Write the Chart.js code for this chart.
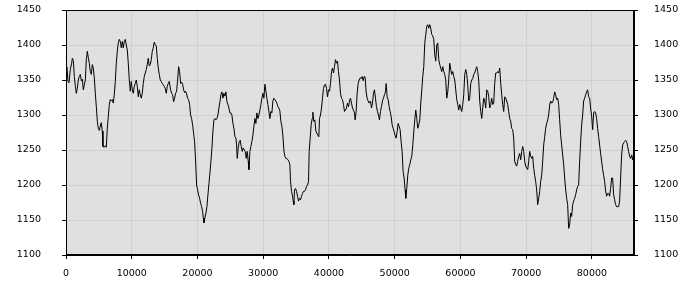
<!DOCTYPE html>
<html>
<head>
<meta charset="utf-8">
<script src="https://cdn.jsdelivr.net/npm/chart.js@4/dist/chart.umd.min.js"></script>
<style>
  body { margin: 0; background: #fff; }
  #wrap { width: 700px; height: 300px; }
</style>
</head>
<body>
<div id="wrap"><canvas id="myChart" width="700" height="300"></canvas></div>
<script>
// x positions (seconds) and readings, kept row for row
const times = [
    0, 152, 304, 456, 659, 861, 963, 1115,
    1267, 1419, 1571, 1723, 1875, 2027, 2179, 2331,
    2483, 2635, 2787, 2939, 3091, 3243, 3395, 3547,
    3699, 3851, 4003, 4155, 4307, 4459, 4611, 4763,
    4915, 5067, 5219, 5371, 5523, 5624, 5827, 5979,
    6131, 6283, 6435, 6587, 6739, 6891, 7043, 7195,
    7347, 7499, 7651, 7803, 7955, 8107, 8259, 8411,
    8563, 8715, 8867, 9019, 9171, 9323, 9475, 9627,
    9779, 9931, 10083, 10235, 10387, 10539, 10691, 10843,
    10995, 11147, 11299, 11451, 11603, 11755, 11907, 12059,
    12211, 12363, 12515, 12667, 12819, 12971, 13123, 13275,
    13427, 13579, 13731, 13883, 14035, 14187, 14339, 14491,
    14643, 14795, 14947, 15099, 15251, 15403, 15555, 15707,
    15914, 16066, 16218, 16370, 16522, 16674, 16826, 16978,
    17130, 17282, 17434, 17586, 17738, 17890, 18042, 18194,
    18346, 18498, 18650, 18802, 18954, 19106, 19258, 19410,
    19562, 19714, 19866, 20018, 20170, 20322, 20474, 20626,
    20778, 20880, 20981, 21133, 21285, 21437, 21589, 21741,
    21893, 22045, 22197, 22349, 22501, 22653, 22805, 22957,
    23109, 23261, 23413, 23565, 23717, 23869, 24021, 24173,
    24325, 24477, 24629, 24781, 24933, 25085, 25237, 25389,
    25541, 25693, 25845, 25946, 26048, 26200, 26352, 26504,
    26656, 26808, 26960, 27112, 27264, 27416, 27568, 27720,
    27822, 27974, 28126, 28278, 28430, 28582, 28734, 28886,
    29038, 29190, 29342, 29494, 29646, 29798, 29950, 30102,
    30254, 30406, 30558, 30710, 30862,
    31013, 31165, 31317, 31469, 31621, 31773, 31925, 32077,
    32229, 32381, 32533, 32685, 32837, 32989, 33141, 33293,
    33445, 33597, 33749, 33901, 34053, 34154, 34306, 34458,
    34559, 34661, 34762, 34914, 35066, 35218, 35370, 35522,
    35674, 35826, 35978, 36130, 36282, 36434, 36586, 36738,
    36890, 36991, 37143, 37295, 37447, 37549, 37701, 37853,
    38005, 38157, 38309, 38461, 38562, 38714, 38866, 39018,
    39170, 39322, 39474, 39626, 39778, 39930, 40082, 40234,
    40386, 40538, 40690, 40842, 40994, 41146, 41298, 41450,
    41602, 41754, 41906, 42058, 42210, 42362, 42514, 42666,
    42818, 42970, 43122, 43274, 43426, 43578, 43730, 43882,
    43983, 44135, 44287, 44439, 44591, 44743, 44895, 45047,
    45199, 45351, 45503, 45655, 45807, 45959, 46111,
    46314, 46466, 46618, 46770, 46922, 47074, 47226, 47378,
    47530, 47682, 47834, 47986, 48138, 48290, 48442, 48594,
    48696, 48848, 49000, 49152, 49304, 49456, 49608, 49760,
    49912, 50064, 50216, 50368, 50520, 50672, 50824, 50976,
    51128, 51280, 51432, 51584, 51685, 51837, 51989, 52141,
    52293, 52445, 52597, 52749, 52901, 53053, 53205, 53357,
    53509, 53661, 53813, 53965, 54117, 54269, 54421, 54573,
    54725, 54877, 55029, 55181, 55333, 55485, 55637, 55789,
    55941, 56093, 56245, 56397, 56549, 56701, 56853, 57005,
    57157, 57309, 57461, 57613, 57765, 57917, 58069, 58221,
    58373, 58525, 58677, 58829, 58981, 59133, 59285, 59437,
    59589, 59741, 59893, 60045, 60197, 60349, 60501, 60653,
    60805, 60957, 61109, 61261,
    61413, 61565, 61717, 61869, 62021, 62173, 62325, 62477,
    62629, 62781, 62933, 63085, 63237, 63389, 63541, 63693,
    63845, 63997, 64149, 64301, 64453, 64605, 64757, 64909,
    65061, 65213, 65365, 65517, 65669, 65821, 65973, 66125,
    66277, 66429, 66581, 66733, 66885, 67037, 67189, 67341,
    67493, 67645, 67797, 67949, 68101, 68253, 68405, 68557,
    68709, 68861, 69013, 69165, 69317, 69469, 69621, 69773,
    69925, 70077, 70229, 70381, 70533, 70685, 70837, 70989,
    71141, 71293, 71445, 71597, 71749, 71901, 72053, 72205,
    72357, 72509, 72661, 72813, 72965, 73117, 73269, 73421,
    73573, 73725, 73877, 74029, 74181, 74333, 74485, 74637,
    74789, 74941, 75093, 75245, 75397, 75549, 75701, 75853,
    76005, 76157, 76309, 76461,
    76613, 76765, 76917, 77069, 77221, 77373, 77525, 77677,
    77829, 77981, 78133, 78285, 78437, 78589, 78741, 78893,
    79045, 79197, 79349, 79501, 79653, 79805, 79957, 80109,
    80261, 80413, 80565, 80717, 80869, 81021, 81173, 81325,
    81477, 81629, 81781, 81933, 82085, 82237, 82389, 82541,
    82693, 82845, 82997, 83149, 83301, 83453, 83605, 83757,
    83909, 84061, 84213, 84365, 84517, 84669, 84821, 84973,
    85125, 85277, 85429, 85581, 85733, 85885, 86037, 86189,
    86341, 86400
];

const values = [
    1366, 1368, 1348, 1346, 1365, 1374, 1381, 1378,
    1355, 1341, 1331, 1338, 1350, 1355, 1358, 1349,
    1351, 1336, 1343, 1350, 1379, 1391, 1382, 1374,
    1362, 1358, 1372, 1367, 1353, 1331, 1312, 1291,
    1281, 1278, 1284, 1289, 1277, 1255, 1254, 1256,
    1254, 1281, 1298, 1315, 1322, 1320, 1322, 1317,
    1329, 1348, 1374, 1391, 1403, 1408, 1405, 1396,
    1405, 1396, 1405, 1408, 1400, 1393, 1374, 1350,
    1334, 1348, 1336, 1331, 1341, 1345, 1350, 1341,
    1326, 1336, 1329, 1324, 1331, 1345, 1355, 1360,
    1365, 1372, 1381, 1370, 1372, 1379, 1391, 1396,
    1404, 1400, 1399, 1381, 1367, 1358, 1350, 1348,
    1345, 1343, 1341, 1338, 1331, 1341, 1345, 1348,
    1336, 1331, 1329, 1319, 1324, 1331, 1334, 1350,
    1369, 1362, 1345, 1347, 1344, 1336, 1332, 1334,
    1330, 1324, 1322, 1315, 1300, 1295, 1286, 1274,
    1262, 1234, 1200, 1193, 1186, 1181, 1174, 1169,
    1162, 1153, 1146, 1153, 1160, 1169, 1186, 1202,
    1217, 1234, 1253, 1277, 1293, 1295, 1293, 1295,
    1300, 1310, 1319, 1329, 1333, 1324, 1331, 1327,
    1333, 1319, 1315, 1310, 1303, 1303, 1300, 1288,
    1281, 1269, 1267, 1257, 1238, 1253, 1262, 1264,
    1255, 1248, 1253, 1250, 1248, 1238, 1248, 1234,
    1222, 1248, 1255, 1262, 1271, 1284, 1295, 1288,
    1303, 1295, 1300, 1307, 1315, 1324, 1331, 1324,
    1344, 1334, 1324, 1315, 1305,
    1295, 1305, 1303, 1320, 1324, 1322, 1320, 1317,
    1312, 1310, 1306, 1291, 1284, 1271, 1250, 1241,
    1238, 1238, 1236, 1234, 1229, 1205, 1191, 1184,
    1177, 1172, 1193, 1195, 1191, 1184, 1177, 1181,
    1179, 1184, 1188, 1191, 1191, 1193, 1198, 1200,
    1205, 1248, 1267, 1286, 1295, 1304, 1291, 1293,
    1277, 1274, 1271, 1269, 1295, 1300, 1310, 1324,
    1338, 1343, 1344, 1338, 1326, 1336, 1334, 1345,
    1362, 1367, 1360, 1369, 1379, 1374, 1377, 1362,
    1350, 1331, 1324, 1322, 1315, 1305, 1307, 1310,
    1317, 1312, 1320, 1324, 1317, 1310, 1307, 1303,
    1293, 1305, 1331, 1345, 1350, 1353, 1352, 1355,
    1349, 1355, 1354, 1333, 1324, 1320, 1317,
    1320, 1310, 1317, 1331, 1336, 1324, 1312, 1305,
    1300, 1293, 1305, 1312, 1320, 1324, 1329, 1333,
    1345, 1326, 1322, 1312, 1305, 1298, 1286, 1281,
    1276, 1271, 1267, 1276, 1288, 1284, 1279, 1262,
    1248, 1219, 1210, 1193, 1181, 1195, 1214, 1224,
    1229, 1236, 1241, 1257, 1276, 1293, 1307, 1295,
    1281, 1286, 1293, 1317, 1336, 1355, 1369, 1403,
    1415, 1427, 1429, 1424, 1429, 1424, 1415, 1413,
    1408, 1386, 1377, 1400, 1403, 1379, 1372, 1367,
    1362, 1369, 1362, 1358, 1350, 1324, 1333, 1350,
    1374, 1365, 1358, 1362, 1355, 1350, 1336, 1322,
    1315, 1307, 1315, 1310, 1305, 1315, 1329, 1358,
    1365, 1358, 1343, 1320,
    1324, 1345, 1350, 1352, 1358, 1360, 1365, 1369,
    1362, 1350, 1320, 1305, 1295, 1310, 1324, 1320,
    1310, 1336, 1334, 1326, 1310, 1315, 1324, 1315,
    1317, 1345, 1360, 1360, 1362, 1360, 1367, 1345,
    1329, 1315, 1305, 1326, 1324, 1320, 1315, 1305,
    1295, 1291, 1281, 1279, 1267, 1234, 1229, 1227,
    1234, 1241, 1245, 1236, 1248, 1255, 1248, 1234,
    1227, 1224, 1222, 1234, 1248, 1241, 1238, 1241,
    1224, 1214, 1205, 1193, 1172, 1181, 1191, 1205,
    1214, 1234, 1257, 1269, 1281, 1288, 1293, 1300,
    1315, 1320, 1317, 1318, 1324, 1333, 1329, 1322,
    1324, 1315, 1293, 1271, 1257, 1243, 1229, 1210,
    1193, 1181, 1172, 1138,
    1143, 1160, 1155, 1172, 1177, 1181, 1186, 1193,
    1198, 1200, 1234, 1262, 1286, 1300, 1320, 1324,
    1329, 1333, 1336, 1326, 1324, 1310, 1298, 1279,
    1303, 1305, 1303, 1295, 1281, 1269, 1257, 1245,
    1234, 1222, 1214, 1205, 1191, 1184, 1188, 1188,
    1184, 1195, 1210, 1210, 1186, 1179, 1172, 1169,
    1169, 1169, 1177, 1210, 1243, 1257, 1260, 1262,
    1264, 1262, 1255, 1248, 1241, 1238, 1243, 1236,
    1245, 1250
];

const xTicks = [0, 10000, 20000, 30000, 40000, 50000, 60000, 70000, 80000];
const yTicks = [1100, 1150, 1200, 1250, 1300, 1350, 1400, 1450];

const points = times.map((t, i) => ({ x: t, y: values[i] }));

const labelFont = { family: 'DejaVu Sans', size: 9.5 };

const plotFrame = {
    id: 'plotFrame',
    beforeDraw(chart) {
        const a = chart.chartArea;
        const ctx = chart.ctx;
        ctx.save();
        ctx.fillStyle = '#e0e0e0';
        ctx.fillRect(a.left, a.top, a.right - a.left, a.bottom - a.top);
        ctx.restore();
    },
    afterDraw(chart) {
        const a = chart.chartArea;
        const ctx = chart.ctx;
        ctx.save();
        ctx.strokeStyle = '#000';
        ctx.lineWidth = 1;
        ctx.strokeRect(Math.round(a.left) + 0.5, Math.round(a.top) + 0.5,
            Math.round(a.right - a.left) - 1, Math.round(a.bottom - a.top) - 1);
        ctx.restore();
    }
};

function keepTicks(list) {
    return function (scale) {
        scale.ticks = list.map(v => ({ value: v }));
    };
}

// fixed side width, and no extra top/bottom room from the tick padding
function fixWidth(s) {
    s.width = 66;
    s.paddingTop = 0;
    s.paddingBottom = 0;
}

const config = {
    type: 'line',
    data: {
        datasets: [{
            data: points,
            borderColor: '#000',
            borderWidth: 1,
            pointRadius: 0,
            tension: 0,
            fill: false,
            yAxisID: 'y'
        }]
    },
    options: {
        responsive: false,
        animation: false,
        layout: { padding: { top: 10 } },
        plugins: { legend: { display: false }, tooltip: { enabled: false } },
        scales: {
            x: {
                type: 'linear',
                min: 0,
                max: 86400,
                afterBuildTicks: keepTicks(xTicks),
                afterFit: s => { s.height = 45; s.paddingLeft = 0; s.paddingRight = 0; },
                grid: { color: '#d0d0d0', tickColor: '#000', tickLength: 4 },
                border: { color: '#000' },
                ticks: { color: '#000', font: labelFont, padding: 9, maxRotation: 0, callback: v => String(v) }
            },
            y: {
                position: 'left',
                min: 1100,
                max: 1450,
                afterBuildTicks: keepTicks(yTicks),
                afterFit: fixWidth,
                grid: { color: '#d0d0d0', tickColor: '#000', tickLength: 4 },
                border: { color: '#000' },
                ticks: { color: '#000', font: labelFont, padding: 21, callback: v => String(v) }
            },
            y2: {
                position: 'right',
                min: 1100,
                max: 1450,
                afterBuildTicks: keepTicks(yTicks),
                afterFit: fixWidth,
                grid: { drawOnChartArea: false, tickColor: '#000', tickLength: 4 },
                border: { color: '#000' },
                ticks: { color: '#000', font: labelFont, padding: 16, callback: v => String(v) }
            }
        }
    },
    plugins: [plotFrame]
};

const chart = new Chart(document.getElementById('myChart'), config);
</script>
</body>
</html>
